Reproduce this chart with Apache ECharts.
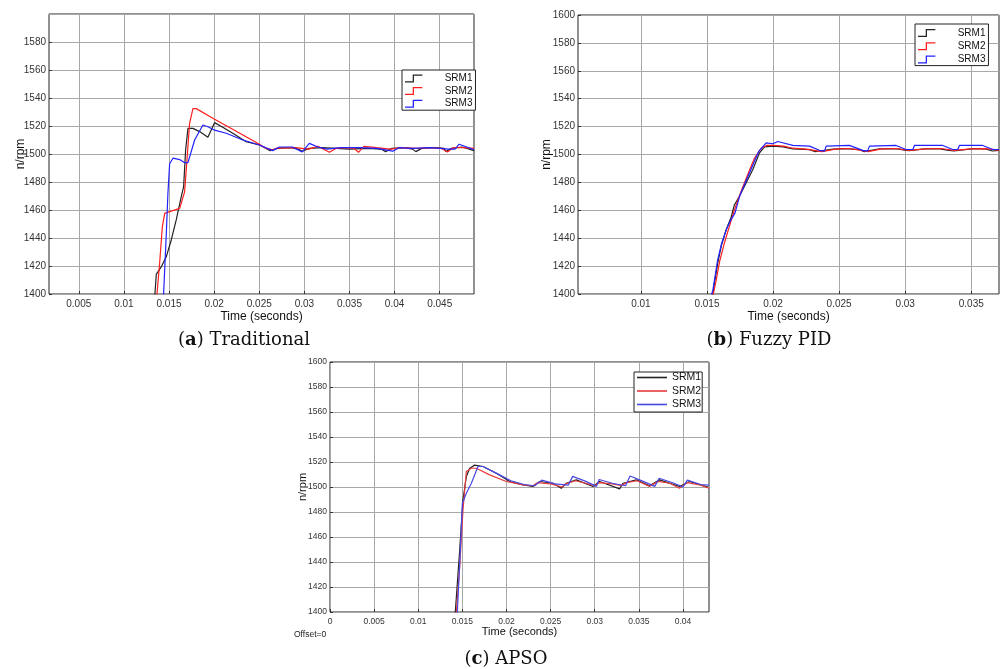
<!DOCTYPE html>
<html>
<head>
<meta charset="utf-8">
<style>
html,body{margin:0;padding:0;background:#fff;}
#chart{width:1002px;height:669px;}
</style>
<script src="https://cdn.jsdelivr.net/npm/echarts@6/dist/echarts.min.js"></script>
</head>
<body>
<div id="chart"></div>
<script>
// ---------- tick labels ----------
const xTicksA = [0.005, 0.01, 0.015, 0.02, 0.025, 0.03, 0.035, 0.04, 0.045];
const xTicksB = [0.01, 0.015, 0.02, 0.025, 0.03, 0.035];
const xTicksC = [0, 0.005, 0.01, 0.015, 0.02, 0.025, 0.03, 0.035, 0.04];
const seriesNames = ['SRM1', 'SRM2', 'SRM3'];
const captions = ['Traditional', 'Fuzzy PID', 'APSO'];

// ---------- (a) Traditional ----------
const tA1 = [0.0133, 0.01344, 0.01359, 0.01415, 0.0147, 0.01525, 0.0158, 0.01636, 0.01662, 0.01684, 0.0171, 0.01765, 0.01839, 0.01931, 0.02005, 0.021, 0.02207, 0.02355, 0.02502, 0.02576, 0.0262, 0.027, 0.0285, 0.0293, 0.0298, 0.0305, 0.032, 0.0335, 0.035, 0.037, 0.0385, 0.039, 0.0397, 0.041, 0.042, 0.04235, 0.043, 0.0445, 0.0455, 0.04567, 0.0463, 0.0475, 0.0488];
const vA1 = [1390, 1400, 1414, 1419.5, 1426.7, 1438.6, 1452.9, 1469.5, 1476.7, 1502.9, 1518.3, 1518.3, 1516, 1511.9, 1522.4, 1519, 1514.8, 1508.8, 1506.4, 1504, 1502.4, 1504, 1504.5, 1503.5, 1502, 1504, 1504.5, 1504, 1503.5, 1504, 1503.5, 1501.7, 1504, 1504.5, 1503.5, 1501.7, 1504, 1504.5, 1504, 1501.8, 1504, 1505, 1502.4];
const tA2 = [0.0136, 0.01367, 0.01396, 0.01426, 0.01452, 0.01507, 0.01618, 0.01673, 0.01699, 0.01728, 0.01765, 0.01802, 0.02, 0.0225, 0.02502, 0.02576, 0.0265, 0.027, 0.029, 0.0305, 0.0315, 0.03277, 0.0335, 0.0345, 0.0355, 0.036, 0.0366, 0.038, 0.0395, 0.041, 0.0425, 0.044, 0.0452, 0.04586, 0.0465, 0.0475, 0.0488];
const vA2 = [1390, 1400, 1422, 1448, 1457.6, 1458.8, 1461.2, 1473, 1495.7, 1521.9, 1532.4, 1532.4, 1525, 1516, 1507, 1504, 1503, 1504.2, 1504.5, 1503.5, 1505.5, 1501.2, 1504, 1504.5, 1504, 1501.2, 1505.5, 1504.5, 1503.5, 1504.5, 1504, 1504.5, 1504, 1501.4, 1504.5, 1504.5, 1504];
const tA3 = [0.0143, 0.0144, 0.0147, 0.01488, 0.01507, 0.01544, 0.01618, 0.01673, 0.0171, 0.01784, 0.01876, 0.01931, 0.02005, 0.02134, 0.02318, 0.02502, 0.0265, 0.02723, 0.02871, 0.02974, 0.03055, 0.0315, 0.0325, 0.034, 0.036, 0.038, 0.0398, 0.0405, 0.042, 0.044, 0.046, 0.0467, 0.04715, 0.048, 0.0488];
const vA3 = [1390, 1400, 1443, 1472, 1493, 1497, 1496, 1493.8, 1493.8, 1510, 1520.7, 1519.5, 1517, 1514.8, 1510, 1506.4, 1502.4, 1505, 1505, 1501.4, 1507.6, 1505, 1503.5, 1504.5, 1504.5, 1504, 1502, 1504.5, 1504, 1504.5, 1503.5, 1503.5, 1507, 1505, 1503];

// ---------- (b) Fuzzy PID ----------
const tB1 = [0.0153, 0.01545, 0.01557, 0.01582, 0.01608, 0.01646, 0.01683, 0.01708, 0.01746, 0.01797, 0.01847, 0.01898, 0.01935, 0.01999, 0.02074, 0.0215, 0.02276, 0.0232, 0.02351, 0.02452, 0.02553, 0.02654, 0.0269, 0.02805, 0.02931, 0.03007, 0.0303, 0.0315, 0.0325, 0.0333, 0.0337, 0.035, 0.036, 0.0366, 0.0371];
const vB1 = [1395, 1400, 1408, 1422.4, 1434.4, 1446.3, 1455, 1464, 1470, 1479.7, 1489.3, 1501.2, 1505.5, 1506, 1505.5, 1504, 1503.5, 1502, 1502.5, 1503.8, 1504.2, 1503.5, 1502, 1504, 1504.2, 1503, 1502.8, 1504, 1504.2, 1503, 1502.5, 1504, 1504.2, 1502.5, 1503];
const tB2 = [0.01535, 0.01548, 0.0157, 0.01595, 0.0163, 0.01665, 0.0171, 0.0176, 0.0181, 0.0186, 0.0191, 0.0195, 0.02, 0.0208, 0.0215, 0.0225, 0.0237, 0.0247, 0.0257, 0.0267, 0.0272, 0.0282, 0.0293, 0.0303, 0.0315, 0.0327, 0.0337, 0.035, 0.036, 0.0368, 0.0371];
const vB2 = [1395, 1400, 1410, 1423, 1436, 1447, 1461, 1474, 1486, 1497.5, 1504.5, 1506.5, 1506.5, 1506, 1504.5, 1503.8, 1502, 1503.8, 1504.3, 1503, 1502, 1504, 1504.3, 1503, 1504, 1504.3, 1503, 1504, 1504.2, 1503.5, 1503];
const tB3 = [0.0152, 0.01545, 0.0158, 0.0161, 0.0165, 0.0168, 0.01712, 0.0175, 0.018, 0.0185, 0.0189, 0.01948, 0.01999, 0.02036, 0.0215, 0.02276, 0.0235, 0.0239, 0.02402, 0.02578, 0.02679, 0.02715, 0.0273, 0.02931, 0.03007, 0.03058, 0.0307, 0.03285, 0.0336, 0.03398, 0.0341, 0.03587, 0.03663, 0.0371];
const vB3 = [1395, 1403, 1424, 1436, 1447, 1453, 1458, 1471, 1482, 1493, 1502, 1508.4, 1507.7, 1509.3, 1506.5, 1506, 1503, 1502.4, 1506, 1506.5, 1503, 1502.4, 1506, 1506.5, 1503.6, 1503.6, 1506.5, 1506.5, 1503.6, 1503.6, 1506.5, 1506.5, 1503.6, 1503.6];

// ---------- (c) APSO ----------
const tC1 = [0.014, 0.0142, 0.0147, 0.01507, 0.01545, 0.01583, 0.0164, 0.01734, 0.01885, 0.02036, 0.02187, 0.023, 0.02376, 0.02527, 0.02621, 0.02678, 0.02791, 0.0298, 0.03056, 0.03282, 0.0332, 0.03471, 0.03622, 0.03735, 0.03962, 0.04075, 0.04283];
const vC1 = [1390, 1400, 1449.7, 1489.7, 1508.4, 1515, 1517.5, 1516.4, 1511, 1504.4, 1501.7, 1500.4, 1504.4, 1503, 1499, 1503, 1505.7, 1500.4, 1504.4, 1498.5, 1503, 1505.7, 1501, 1505.7, 1500.4, 1504.4, 1500];
const tC2 = [0.0141, 0.01432, 0.0147, 0.01507, 0.01545, 0.01602, 0.01658, 0.01809, 0.01998, 0.02187, 0.023, 0.0235, 0.025, 0.0263, 0.0267, 0.0278, 0.029, 0.03, 0.0305, 0.032, 0.033, 0.0336, 0.0348, 0.0362, 0.0372, 0.0385, 0.0396, 0.0405, 0.042, 0.04295];
const vC2 = [1390, 1400, 1436, 1481.7, 1512.4, 1515, 1515, 1509.7, 1504.4, 1501.7, 1501, 1503.5, 1502.5, 1500, 1502.5, 1505, 1503, 1501, 1503.5, 1502.5, 1501, 1503.5, 1505, 1500.5, 1504.5, 1503, 1499, 1503.5, 1501.5, 1499];
const tC3 = [0.0142, 0.01443, 0.0147, 0.015, 0.01545, 0.01602, 0.01677, 0.01734, 0.019, 0.0205, 0.022, 0.0232, 0.024, 0.0255, 0.027, 0.0275, 0.029, 0.0302, 0.0305, 0.032, 0.0335, 0.034, 0.0355, 0.0368, 0.0373, 0.039, 0.04, 0.0405, 0.042, 0.04295];
const vC3 = [1390, 1400, 1439, 1487, 1495, 1503, 1516.4, 1516.4, 1510.5, 1505, 1502, 1501, 1505.5, 1502.5, 1501.5, 1508.5, 1504.5, 1500.5, 1506, 1503, 1501, 1508.8, 1504.5, 1500.5, 1507, 1503, 1500, 1505.5, 1502, 1501.5];

// ---------- build option ----------
function zip(t, v) { return t.map((x, i) => [x, v[i]]); }

const panels = [
  { key: 'a', grid: { left: 49, top: 14, width: 425, height: 280 }, xMin: 0.0017, xMax: 0.0488, ticks: xTicksA,
    data: [zip(tA1, vA1), zip(tA2, vA2), zip(tA3, vA3)], colors: ['#222222', '#ff1e1e', '#2222ff'],
    tickFont: 10, nameFont: 12, xNameGap: 17, yNameGap: 22, showMaxY: false,
    legend: { left: 402, top: 70, itemGap: 2.6, padding: [3.5, 3, 1.5, 3] }, step: true },
  { key: 'b', grid: { left: 578, top: 15, width: 421, height: 279 }, xMin: 0.00524, xMax: 0.0371, ticks: xTicksB,
    data: [zip(tB1, vB1), zip(tB2, vB2), zip(tB3, vB3)], colors: ['#222222', '#ff1e1e', '#2222ff'],
    tickFont: 10, nameFont: 12, xNameGap: 17, yNameGap: 25, showMaxY: true,
    legend: { left: 915, top: 24, itemGap: 3.3, padding: [4, 3, 1, 3] }, step: true },
  { key: 'c', grid: { left: 330, top: 362, width: 379, height: 250 }, xMin: 0, xMax: 0.04295, ticks: xTicksC,
    data: [zip(tC1, vC1), zip(tC2, vC2), zip(tC3, vC3)], colors: ['#222222', '#e83c3c', '#4848e6'],
    tickFont: 8.5, nameFont: 11, xNameGap: 14, yNameGap: 22, showMaxY: true,
    legend: { left: 634, top: 372, itemGap: 2.5, padding: [0, 1, 2, 3] }, step: false }
];

const stepIcon = 'path://M0,7 L8,7 L8,0 L18,0 L18,1.3 L9.3,1.3 L9.3,8.3 L0,8.3 Z';
const fontFam = '"Liberation Sans", Arial, sans-serif';

const option = {
  animation: false,
  backgroundColor: '#ffffff',
  grid: [], xAxis: [], yAxis: [], series: [], legend: [],
  graphic: []
};

panels.forEach((p, i) => {
  option.grid.push(Object.assign({ show: true, borderColor: '#222', borderWidth: 1, backgroundColor: '#fff', containLabel: false }, p.grid));
  option.xAxis.push({
    type: 'value', gridIndex: i, min: p.xMin, max: p.xMax,
    axisLine: { show: false },
    axisTick: { show: true, inside: true, length: 3, lineStyle: { color: '#333' }, customValues: p.ticks },
    axisLabel: { customValues: p.ticks, color: '#333', fontSize: p.tickFont, fontFamily: fontFam, margin: 5, formatter: v => String(v) },
    splitLine: { show: true, lineStyle: { color: '#a8a8a8', width: 1 } },
    name: 'Time (seconds)', nameLocation: 'middle', nameGap: p.xNameGap, nameMoveOverlap: false,
    nameTextStyle: { fontSize: p.nameFont, color: '#111', fontFamily: fontFam }
  });
  option.yAxis.push({
    type: 'value', gridIndex: i, min: 1400, max: 1600, interval: 20,
    axisLine: { show: false },
    axisTick: { show: true, inside: true, length: 3, lineStyle: { color: '#333' } },
    axisLabel: { color: '#333', fontSize: p.tickFont, fontFamily: fontFam, margin: 3, showMaxLabel: p.showMaxY, formatter: v => String(v) },
    splitLine: { show: true, lineStyle: { color: '#a8a8a8', width: 1 } },
    name: 'n/rpm', nameLocation: 'middle', nameGap: p.yNameGap, nameMoveOverlap: false,
    nameTextStyle: { fontSize: p.nameFont, color: '#111', fontFamily: fontFam }
  });
  const names = seriesNames.map(n => p.key + ':' + n);
  names.forEach((nm, k) => {
    option.series.push({
      type: 'line', name: nm, xAxisIndex: i, yAxisIndex: i,
      data: p.data[k], symbol: 'none', showSymbol: false, clip: true,
      lineStyle: { width: 1.2, color: p.colors[k] }, itemStyle: { color: p.colors[k] },
      z: 2 + k
    });
  });
  const lg = {
    data: names, orient: 'vertical', left: p.legend.left, top: p.legend.top,
    itemGap: p.legend.itemGap, padding: p.legend.padding,
    selectedMode: false, backgroundColor: '#fff', borderColor: '#222', borderWidth: 1,
    formatter: nm => nm.split(':')[1],
    textStyle: { color: '#111', fontFamily: fontFam }
  };
  if (p.step) {
    Object.assign(lg, { icon: stepIcon, itemWidth: 18, itemHeight: 8 });
    lg.textStyle = Object.assign(lg.textStyle, { fontSize: 10, padding: [0, 0, 0, 17] });
  } else {
    Object.assign(lg, { icon: 'rect', itemWidth: 30, itemHeight: 1.6 });
    lg.textStyle = Object.assign(lg.textStyle, { fontSize: 10.5, padding: [0, 0, 0, 0] });
  }
  option.legend.push(lg);
});

const capPos = [[244, 340], [769, 340], [506, 659]];
const capLetters = ['a', 'b', 'c'];
capPos.forEach((c, i) => {
  option.graphic.push({
    type: 'text', x: c[0], y: c[1],
    style: {
      text: '{n|(}{b|' + capLetters[i] + '}{n|) ' + captions[i] + '}',
      align: 'center', verticalAlign: 'middle',
      rich: {
        n: { fontFamily: '"DejaVu Serif", "Liberation Serif", serif', fontSize: 18, fill: '#111', fontWeight: 'normal' },
        b: { fontFamily: '"DejaVu Serif", "Liberation Serif", serif', fontSize: 18, fill: '#111', fontWeight: 'bold' }
      }
    }
  });
});
option.graphic.push({
  type: 'text', x: 294, y: 635,
  style: { text: 'Offset=0', fontSize: 8.5, fontFamily: fontFam, fill: '#222', align: 'left', verticalAlign: 'middle' }
});

const chart = echarts.init(document.getElementById('chart'), null, { renderer: 'canvas' });
chart.setOption(option);
</script>
</body>
</html>
